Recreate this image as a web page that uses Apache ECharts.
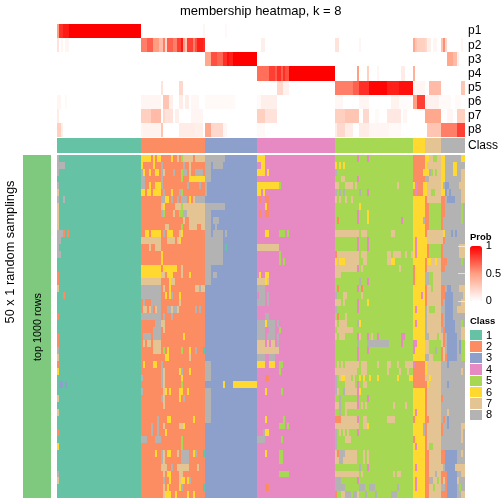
<!DOCTYPE html>
<html>
<head>
<meta charset="utf-8">
<style>html,body{margin:0;padding:0;background:#fff}#c{width:504px;height:504px}</style>
<script src="https://cdn.jsdelivr.net/npm/echarts@6/dist/echarts.min.js"></script>
</head>
<body>
<div id="c"></div>
<script>
const FONT = 'Liberation Sans';
const titleText = 'membership heatmap, k = 8';
const classLabels = ['1','2','3','4','5','6','7','8'];
const classColors = ['#66c2a5','#fc8d62','#8da0cb','#e78ac3','#a6d854','#ffd92f','#e5c494','#b3b3b3'];
const classSizes = [42,32,26,39,39,6,8,12];
const probLabels = ['p1','p2','p3','p4','p5','p6','p7','p8'];
const ROWS = 50;

// membership probabilities: [first column, column count, value]
const p1 = [[0,1,.5],[1,2,.85],[3,3,.92],[6,36,1],[73,1,.05],[84,1,.03]];
const p2 = [[0,1,.15],[2,1,.05],[4,2,.05],[42,3,.6],[45,3,.7],[48,3,.5],[51,2,.35],[53,1,.6],[54,1,.2],[55,3,.7],[58,2,.6],[60,2,.8],[62,1,.92],[63,1,.5],[64,1,.3],[65,3,.8],[68,1,.6],[69,1,.75],[70,3,.9],[73,1,.85],[102,2,.08],[139,2,.15],[151,1,.05],[178,1,.45],[179,1,.3],[180,4,.25],[184,1,.2],[185,2,.08],[188,2,.05],[192,1,.3],[193,1,.55],[194,1,.2],[202,1,.05]];
const p3 = [[74,3,.45],[77,3,.75],[80,3,.68],[83,2,.85],[85,1,.95],[86,2,.9],[88,12,1],[195,3,.45],[198,2,.35],[200,1,.08]];
const p4 = [[100,6,.65],[106,3,.8],[109,1,.7],[110,2,.85],[112,1,.7],[113,1,.85],[114,2,.75],[116,23,1],[150,1,.5],[155,1,.25],[160,1,.05],[172,2,.1],[178,1,.4]];
const p5 = [[52,1,.15],[61,2,.2],[110,3,.2],[113,3,.07],[139,9,.6],[148,3,.7],[151,5,.85],[156,9,.98],[165,6,.9],[171,7,.95],[178,6,.05],[186,6,.35],[202,2,.3]];
const p6 = [[0,2,.05],[4,1,.03],[42,10,.05],[53,3,.3],[56,2,.08],[61,2,.1],[64,2,.1],[67,4,.04],[74,15,.03],[100,2,.03],[102,8,.08],[139,4,.04],[151,5,.05],[167,4,.06],[171,6,.02],[178,2,.5],[180,4,.8],[184,7,.07],[191,6,.03],[199,3,.03]];
const p7 = [[0,1,.1],[42,5,.25],[47,5,.35],[53,1,.2],[54,4,.15],[59,2,.08],[67,6,.05],[100,4,.25],[104,6,.15],[139,5,.25],[144,7,.3],[153,3,.2],[159,2,.03],[165,7,.12],[173,2,.05],[184,8,.45],[195,3,.05],[200,4,.25]];
const p8 = [[0,2,.25],[2,1,.08],[42,1,.05],[43,9,.06],[52,1,.3],[61,8,.1],[69,4,.08],[74,3,.45],[77,6,.2],[83,2,.05],[100,4,.03],[139,2,.1],[140,4,.2],[144,4,.1],[151,5,.1],[156,10,.05],[166,6,.03],[185,7,.3],[192,8,.6],[200,4,.8]];
const probRuns = [p1,p2,p3,p4,p5,p6,p7,p8];

// main matrix differences from the class of the column: [row, first column, count, class]
const runsClass1 = [[0,0,1,8],[1,0,4,8],[2,0,1,8],[4,0,1,8],[5,0,1,7],[6,0,1,8],[6,3,1,8],[7,0,1,7],[8,0,1,7],[9,0,1,7],[10,0,1,7],[11,0,3,8],[11,3,1,2],[11,5,1,2],[12,0,2,8],[13,0,1,8],[14,0,2,8],[17,0,1,2],[18,0,1,2],[19,0,1,7],[20,3,1,2],[23,0,1,2],[26,0,1,2],[27,0,1,2],[28,0,1,8],[29,0,1,7],[30,0,1,2],[31,0,1,6],[33,1,2,3],[33,4,1,3],[35,0,1,7],[37,0,1,7],[40,0,1,2],[42,0,1,6],[46,0,1,8],[47,0,1,7]];
const runsClass2 = [
[0,42,5,6],[0,48,1,6],[0,50,2,6],[0,57,1,6],[0,60,1,7],[0,62,1,5],[0,63,5,7],[0,69,5,7],
[1,42,1,6],[1,48,1,6],[1,52,1,8],[1,63,1,8],[1,66,1,7],
[2,42,1,8],[2,43,1,6],[2,46,1,6],[2,49,2,6],[2,52,1,8],[2,53,1,7],[2,58,1,8],[2,62,1,5],[2,63,2,8],[2,66,1,7],[2,69,4,8],
[3,42,2,8],[3,52,1,8],[3,62,1,5],[3,66,8,6],
[4,42,2,8],[4,46,1,6],[4,49,3,6],[4,52,1,8],[4,65,1,8],[4,71,1,8],
[5,42,2,6],[5,45,2,6],[5,48,4,6],[5,53,1,8],[5,57,1,6],[5,61,1,8],[5,62,1,5],
[6,52,2,8],[6,54,2,6],[6,57,1,8],[6,60,1,8],[6,62,3,8],[6,66,1,6],[6,68,1,7],[6,69,5,8],
[7,52,1,7],[7,53,1,6],[7,59,3,7],[7,62,1,5],[7,63,11,7],
[8,52,1,8],[8,53,1,5],[8,58,1,7],[8,61,2,5],[8,63,2,8],[8,65,9,7],
[9,63,1,7],[9,66,8,7],
[10,54,2,7],[10,62,1,5],[10,66,4,7],[10,72,2,7],
[11,44,2,6],[11,47,5,6],[11,53,1,8],[11,55,3,6],[11,61,1,7],[11,62,1,6],
[12,42,10,7],[12,55,4,7],[12,60,1,7],[12,61,1,6],
[13,46,1,7],[13,49,3,7],
[14,52,1,6],[15,52,1,6],
[16,42,10,6],[16,53,7,6],[16,62,1,7],
[17,42,10,6],[17,52,2,7],[17,55,3,6],[17,62,1,7],[17,66,1,6],
[18,42,10,7],[18,56,1,6],[18,57,2,7],
[19,42,10,8],[19,53,1,7],[19,56,1,6],[19,69,2,7],[19,71,1,8],[19,72,2,7],
[20,42,10,8],[20,54,1,6],[20,56,1,6],[20,57,1,8],[20,61,1,6],
[21,43,1,8],[21,47,5,8],[21,61,1,7],
[22,43,2,7],[22,46,1,7],[22,47,1,8],[22,49,1,7],[22,50,2,8],[22,55,2,8],[22,57,1,7],[22,58,2,8],[22,60,1,7],[22,69,1,8],[22,71,1,8],
[23,42,10,8],[23,53,1,8],[23,57,1,8],
[24,49,3,8],[24,52,2,7],
[25,48,4,8],[25,53,1,7],
[26,43,4,8],[26,48,4,8],[26,63,1,6],
[27,43,1,7],[27,45,2,7],[27,48,4,7],
[28,48,4,7],[28,53,1,5],[28,55,1,6],[28,62,1,5],[28,66,1,6],[28,69,1,8],[28,73,1,1],
[29,54,2,6],[29,66,1,7],
[30,43,1,6],[30,48,1,6],[30,49,1,6],[30,52,1,8],
[31,52,1,8],[31,53,1,7],[31,61,1,6],[31,62,1,8],[31,66,1,6],
[32,42,1,8],[32,52,1,8],[32,53,1,7],[32,62,1,6],
[33,52,1,8],[33,53,1,7],[33,62,1,5],
[34,42,1,8],[34,53,1,7],[34,54,1,6],[34,56,1,6],[34,61,2,6],[34,65,1,6],
[35,52,1,8],[35,53,1,7],[35,61,1,6],[35,63,1,8],
[36,53,1,7],
[38,50,1,8],[38,55,2,6],[38,68,1,6],
[39,47,1,8],[39,50,1,8],[39,53,1,7],[39,61,2,7],[39,63,1,6],
[40,47,1,8],[40,50,1,8],[40,54,1,6],
[41,42,3,8],[41,49,3,8],[41,62,1,5],
[42,62,1,5],
[43,49,1,6],[43,52,1,8],[43,53,1,7],[43,55,2,6],[43,60,1,7],[43,62,4,8],[43,68,1,6],[43,69,1,8],[43,73,1,1],
[44,52,1,8],[44,53,1,7],[44,62,4,8],
[45,52,3,7],[45,57,1,8],[45,60,6,7],[45,70,1,7],
[46,53,1,7],[46,55,2,6],[46,61,2,7],
[47,53,1,8],[47,56,1,6],[47,61,1,7],[47,62,2,6],[47,65,1,6],[47,66,1,8],
[48,53,1,7],[48,55,1,6],[48,61,1,6],[48,62,1,8],[48,73,1,1],
[49,53,1,7],[49,54,3,6],[49,59,1,6],[49,65,1,6],[49,68,1,6]
];
const runsClass3 = [
[0,74,10,8],[1,74,3,8],[1,78,5,8],[2,74,3,8],[3,74,3,8],[4,74,1,8],[5,74,1,8],[7,74,10,8],[8,74,3,8],[9,74,3,8],[9,78,3,8],[10,74,3,8],[10,79,1,8],[11,74,3,8],[11,78,5,8],[11,84,1,8],[12,74,9,8],[13,74,9,8],[13,84,1,1],[14,74,9,8],[15,74,9,8],[16,74,3,8],[17,74,3,8],[17,78,2,8],[18,74,3,8],
[30,74,3,8],[31,74,3,8],[32,74,3,8],[33,83,1,6],[33,88,12,6],[34,74,3,8],[35,74,3,8],[36,74,3,8],[37,74,3,8],[38,74,3,8]
];
const runsClass4 = [
[0,100,4,6],[1,102,2,6],[2,100,4,6],[2,105,1,6],[4,100,11,6],[4,111,1,5],[5,100,2,6],[5,103,1,6],[6,101,1,2],[6,104,2,2],[7,104,1,6],[7,105,1,2],[8,101,1,2],[8,104,2,2],[11,104,2,6],[11,111,3,5],[11,115,1,5],[13,100,11,7],[14,111,1,5],[15,111,1,5],[15,113,1,5],[17,101,1,6],[17,104,2,6],[18,100,4,7],[18,104,1,6],[18,105,1,7],[19,100,4,8],[20,101,3,8],[20,105,1,8],[21,100,4,8],[21,105,1,8],[23,104,2,8],[24,100,4,8],[24,104,1,6],[24,105,4,8],[24,110,1,8],[25,100,4,8],[25,106,3,8],[25,111,1,5],[26,100,4,8],[26,105,4,8],[26,110,1,8],[27,100,4,7],[27,105,1,7],[27,107,2,7],[27,110,1,8],[28,100,11,7],[29,100,4,8],[29,106,3,8],[30,100,4,6],[30,106,3,6],[30,111,2,5],[31,111,1,5],[32,104,2,2],[34,104,1,6],[34,112,1,5],[38,104,1,6],[38,113,1,5],[39,111,3,5],[39,115,1,5],[40,103,1,8],[40,104,2,6],[41,100,4,8],[41,112,1,5],[43,104,1,6],[43,111,2,5],[44,111,2,5],[46,111,5,5],[48,104,2,2]
];
const runsClass5 = [
[0,150,1,4],[0,155,1,4],[1,139,1,6],[1,141,1,6],[1,143,1,6],[2,139,1,8],[3,142,2,7],[3,150,1,4],[4,139,2,7],[4,144,4,7],[4,149,1,7],[4,170,1,7],[5,139,1,8],[5,141,1,8],[5,143,1,8],[5,151,1,8],[5,155,1,4],[6,139,1,7],[6,141,1,7],[6,144,1,7],[6,147,1,7],[7,151,1,6],[8,150,1,4],[8,155,1,6],[9,140,1,2],[9,150,1,4],[9,155,1,6],[9,172,1,4],[11,139,12,7],[11,152,3,7],[11,167,2,7],[12,150,1,4],[12,155,1,4],[13,150,1,4],[13,155,1,4],[14,139,1,2],[14,140,11,7],[14,152,3,7],[14,165,2,7],[14,168,4,7],[14,174,1,7],[14,177,1,7],[15,139,1,6],[15,140,1,7],[15,141,3,6],[15,144,7,7],[15,153,2,7],[15,165,2,7],[15,167,2,6],[16,139,11,7],[16,150,1,4],[16,152,1,7],[16,171,1,7],[17,139,3,7],[18,151,1,8],[18,155,1,4],[19,140,1,2],[19,150,1,4],[19,152,1,2],[20,139,1,8],[20,143,2,7],[20,152,1,7],[21,139,3,7],[21,143,1,7],[21,150,1,4],[21,155,1,6],[22,139,1,8],[22,150,1,4],[23,140,1,2],[23,144,1,7],[24,139,1,7],[24,141,4,7],[24,150,1,8],[24,151,1,6],[25,140,8,7],
[26,139,1,7],[26,141,3,7],[26,150,1,4],[26,151,1,7],[26,155,1,4],[26,157,1,7],[26,160,1,4],[26,172,2,4],[27,150,1,8],[27,155,11,8],[27,172,1,4],[28,150,1,4],[28,155,1,4],[29,150,1,4],[30,140,1,7],[30,142,1,7],[30,144,7,7],[30,152,3,7],[30,160,1,7],[30,165,2,7],[30,170,1,7],[30,174,4,7],[31,139,11,7],[31,152,3,7],[31,165,1,7],[31,171,1,7],[31,175,1,7],[32,139,1,8],[32,141,1,7],[32,142,2,6],[32,144,3,7],[32,148,1,7],[32,151,1,6],[32,153,1,6],[32,156,1,6],[32,160,1,6],[32,170,1,6],[32,176,2,6],[33,139,1,8],[33,144,5,7],[33,150,1,4],[33,153,2,7],[34,139,1,8],[34,140,1,7],[34,143,1,8],[34,144,6,7],[34,150,1,4],[34,151,1,6],[35,141,1,8],[35,150,1,4],[35,155,1,4],[36,139,2,7],[36,141,1,8],[36,144,6,7],[36,150,1,4],[36,152,1,7],[36,154,1,7],[36,168,1,7],[36,174,1,7],[37,141,1,8],[37,144,1,7],[38,139,3,2],[38,142,8,7],[38,150,1,4],[38,153,2,7],[38,165,4,7],[39,139,12,7],[39,153,2,7],[39,155,1,6],[40,139,1,8],[40,141,1,7],[40,143,1,7],[40,145,1,7],[40,150,1,4],[41,139,1,8],[41,144,3,7],[42,139,1,8],[43,139,1,7],[43,140,1,2],[43,141,3,8],[43,144,6,7],[43,153,1,7],[43,155,1,7],[44,139,2,7],[44,141,2,8],[44,143,7,7],[44,153,1,7],[44,155,1,7],[45,151,1,8],[45,155,1,4],[46,139,12,7],[46,152,1,7],[46,168,1,7],[46,170,2,7],[47,139,3,8],[47,150,1,4],[48,139,5,8],[48,151,3,8],[48,156,3,8],[48,170,1,8],[49,139,1,2],[49,142,2,7],[49,144,3,8],[49,148,2,8],[49,150,1,7],[49,154,1,8],[49,159,1,8],[49,167,3,8]
];
// last 26 columns, one class digit per column, one string per row
const tailRows = [
'22222266775577668888888866','22222267777777668888668888','22222666857577668888668877','22222288777777668888888877','64222667777777683388888777',
'24222667755777663838888877','66666627777777228333388877','66666622555555228888888858','66666622555555228888888858','66666822555555288888888858',
'66666622555555288888888888','66666627777777768883838888','64666667777777728888888888','64666662555555288888888777','64666662555555288888888777',
'66666626677677222888888858','26666627777777228888888888','26666688557777888888888888','26666688557777888888888888','66666627757777228338888777',
'66664627777777223333888887','66666627777777283333888877','64666687555777883333887777','66666687777777283333888888','64666687777777283333388858',
'66666687777777823333388877','66666688777757728333338877','44666677555555728333338355','46666677555855278333338355','66666688775555272333338855',
'42222267777777888388888888','22222267777777888888888878','22222277677777888888888888','22222226777777888388888888','66666627777777888888888888',
'66666627777777288888888888','66666627777777888888888888','64666627777777888788888888','26666622777777828388888888','66666827777777288388888877',
'66666827777777288888888878','26666627777777888888888878','64666627557777888888888888','66666622777777223333338878','66666622777777223333338888',
'64666622777777783333377777','66666622777877222333338877','64666622887757272333337888','64666622775777882333338588','66666622777777222333338877'
];

const colClass = [];
classSizes.forEach((n,i)=>{for(let j=0;j<n;j++)colClass.push(i+1);});
const COLS = colClass.length;
const colNames = colClass.map((_,i)=>String(i));
const rowNames = Array.from({length:ROWS},(_,i)=>String(i));

const probData = [];
probRuns.forEach((runs,r)=>{
  const a = new Array(COLS).fill(0);
  runs.forEach(([c,n,v])=>{for(let i=0;i<n;i++)a[c+i]=v;});
  a.forEach((v,c)=>probData.push([c,r,v]));
});
const classRowData = colClass.map((k,c)=>[c,0,k]);
const matrix = rowNames.map(()=>colClass.slice());
[runsClass1,runsClass2,runsClass3,runsClass4,runsClass5].forEach(list=>{
  list.forEach(([r,c,n,k])=>{for(let i=0;i<n;i++)matrix[r][c+i]=k;});
});
tailRows.forEach((s,r)=>{for(let i=0;i<s.length;i++)matrix[r][COLS-s.length+i]=+s[i];});
const mainData = [];
matrix.forEach((row,r)=>row.forEach((k,c)=>mainData.push([c,r,k])));
const legendData = classLabels.map((_,i)=>[0,i,i+1]);

const hiddenX = (gi,data)=>({type:'category',gridIndex:gi,data,show:false});
const catY = (gi,data,show)=>({type:'category',gridIndex:gi,data,inverse:true,position:'right',
  axisLine:{show:false},axisTick:{show:false},
  axisLabel:{show:show,color:'#000',fontFamily:FONT,fontSize:12,margin:3,interval:0}});

// cells snapped to whole pixels so neighbouring rows leave no seam
const cell = (inset)=>function(params,api){
  const p = api.coord([api.value(0),api.value(1)]);
  const s = api.size([1,1]);
  const x0 = Math.round(p[0]-s[0]/2), x1 = Math.round(p[0]+s[0]/2);
  const y0 = Math.round(p[1]-s[1]/2), y1 = Math.round(p[1]+s[1]/2);
  return {type:'rect',shape:{x:x0,y:y0,width:x1-x0,height:y1-y0-inset},style:{fill:api.visual('color')},silent:true};
};
const heat = (gi,data,inset)=>({type:'custom',coordinateSystem:'cartesian2d',xAxisIndex:gi,yAxisIndex:gi,data,
  encode:{x:0,y:1},renderItem:cell(inset||0),progressive:0,animation:false,silent:true,clip:true});

const chart = echarts.init(document.getElementById('c'),null,{renderer:'canvas'});
chart.setOption({
  animation:false,
  backgroundColor:'#fff',
  title:{text:titleText,left:180,top:5,textStyle:{fontFamily:FONT,fontSize:13,fontWeight:'normal',color:'#000'},padding:0},
  tooltip:{show:false},
  grid:[
    {left:57,top:24,width:408,height:113},
    {left:57,top:138,width:408,height:15},
    {left:57,top:155,width:408,height:343},
    {left:23,top:155,width:28,height:343},
    {left:470,top:330,width:12,height:91},
    {left:470,top:246,width:12,height:55}
  ],
  xAxis:[hiddenX(0,colNames),hiddenX(1,colNames),hiddenX(2,colNames),hiddenX(3,['a']),hiddenX(4,['a']),
    {type:'value',gridIndex:5,show:false,min:0,max:1}],
  yAxis:[catY(0,probLabels,true),catY(1,['Class'],true),catY(2,rowNames,false),catY(3,['a'],false),
    (()=>{const y=catY(4,classLabels,true);y.axisLabel.margin=4;y.axisLabel.fontSize=11;return y;})(),
    {type:'value',gridIndex:5,min:0,max:1,interval:0.5,position:'right',z:10,
     axisLine:{show:false},splitLine:{show:false},
     axisTick:{show:true,inside:true,length:12,lineStyle:{color:'#ffffff',opacity:.6}},
     axisLabel:{color:'#000',fontFamily:FONT,fontSize:11,margin:4,formatter:v=>String(v)}}
  ],
  visualMap:[
    {type:'continuous',seriesIndex:0,dimension:2,min:0,max:1,left:470,top:246,itemWidth:12,itemHeight:55,padding:0,
     text:null,showLabel:false,calculable:false,hoverLink:false,
     inRange:{color:['#ffffff','#ff9e81','#ff0000']}},
    {type:'piecewise',show:false,seriesIndex:[1,2,3,4],dimension:2,
     pieces:classColors.map((color,i)=>({value:i+1,color})).concat([{value:9,color:'#7fc97f'}])}
  ],
  series:[
    heat(0,probData),
    heat(1,classRowData),
    heat(2,mainData),
    heat(3,[[0,0,9]]),
    heat(4,legendData,1)
  ],
  graphic:[
    {type:'text',z:100,x:10,y:252,rotation:Math.PI/2,style:{text:'50 x 1 random samplings',fontFamily:FONT,fontSize:12.8,fill:'#000',align:'center',verticalAlign:'middle'}},
    {type:'text',z:100,x:38,y:327,rotation:Math.PI/2,style:{text:'top 1000 rows',fontFamily:FONT,fontSize:10.8,fill:'#000',align:'center',verticalAlign:'middle'}},
    {type:'text',z:100,left:470,top:232,style:{text:'Prob',fontFamily:FONT,fontSize:9.5,fontWeight:'bold',fill:'#000'}},
    {type:'text',z:100,left:470,top:316,style:{text:'Class',fontFamily:FONT,fontSize:9.5,fontWeight:'bold',fill:'#000'}}
  ]
});
</script>
</body>
</html>
